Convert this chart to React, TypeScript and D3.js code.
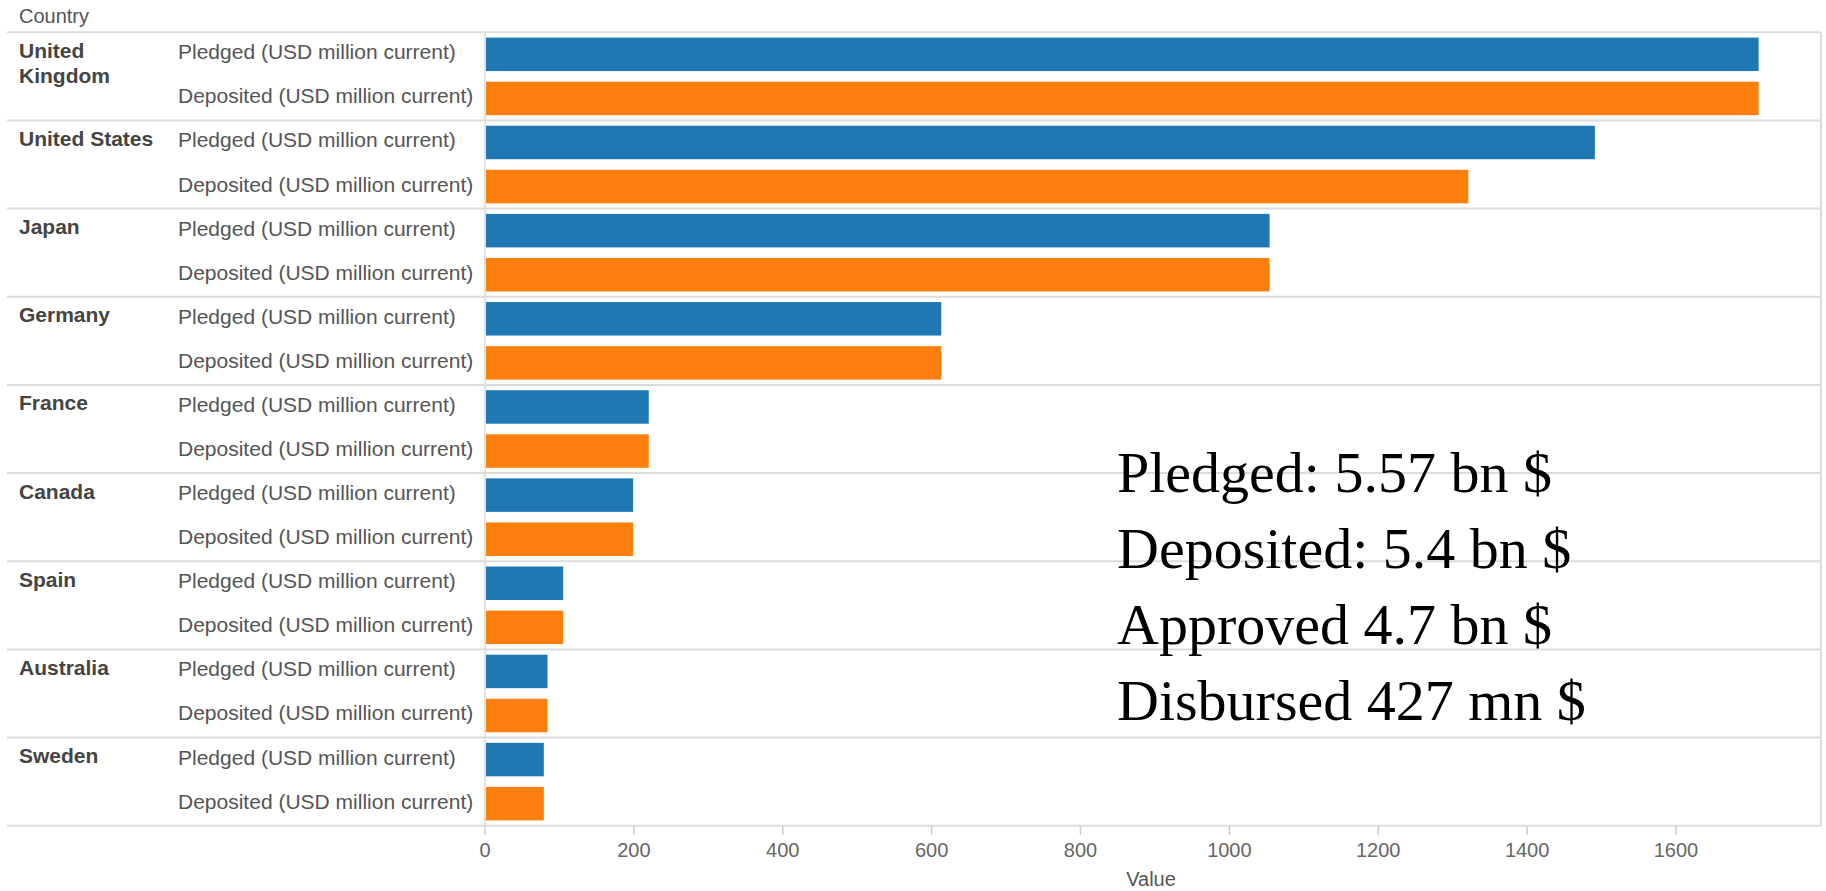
import React from "react";
import * as d3 from "d3";

const countries = ["United Kingdom", "United States", "Japan", "Germany", "France", "Canada", "Spain", "Australia", "Sweden"];
const countryLines: string[][] = [["United", "Kingdom"], ["United States"], ["Japan"], ["Germany"], ["France"], ["Canada"], ["Spain"], ["Australia"], ["Sweden"]];
const measures = ["Pledged (USD million current)", "Deposited (USD million current)"];
const pledged = [1711, 1491, 1054, 613, 220, 199, 105, 84, 79];
const deposited = [1711, 1321, 1054, 613, 220, 199, 105, 84, 79];
const ticks = [0, 200, 400, 600, 800, 1000, 1200, 1400, 1600];
const notes = ["Pledged: 5.57 bn $", "Deposited: 5.4 bn $", "Approved 4.7 bn $", "Disbursed 427 mn $"];
const colors = ["#1f77b4", "#ff7f0e"];

const W = 1826;
const H = 891;

export default function App() {
  const x = d3.scaleLinear().domain([0, 1600]).range([485, 1676]);
  const y = d3.scaleBand<string>().domain(countries).range([32.3, 825.7]).padding(0);
  const sub = d3.scaleBand<string>().domain(measures).range([0, y.bandwidth()]).paddingInner(0.24).paddingOuter(0.12);
  const subStep = y.bandwidth() / 2;
  const values = [pledged, deposited];
  const sans = "'Liberation Sans', Arial, sans-serif";
  const boundaries = countries.map((c) => y(c)!).concat([825.7]);

  return (
    <svg width={W} height={H} style={{ position: "absolute", left: 0, top: 0, background: "#fff" }} fontFamily={sans}>
      <rect x={0} y={0} width={W} height={H} fill="#fff" />
      <text x={19} y={23} fontSize={20} fill="#555">Country</text>
      {boundaries.map((b, i) => (
        <line key={"b" + i} x1={7} x2={1821} y1={b} y2={b} stroke="#dcdcdc" strokeWidth={2} />
      ))}
      <line x1={485} x2={485} y1={32.3} y2={826} stroke="#d8d8d8" strokeWidth={1.5} />
      <line x1={1821} x2={1821} y1={32.3} y2={826} stroke="#dcdcdc" strokeWidth={2} />
      {countries.map((c, ci) => (
        <g key={c}>
          {countryLines[ci].map((ln, li) => (
            <text key={li} x={19} y={y(c)! + 25.5 + li * 25.5} fontSize={21} fontWeight="bold" fill="#444">{ln}</text>
          ))}
          {measures.map((m, mi) => (
            <g key={m}>
              <text x={178} y={y(c)! + mi * subStep + 27} fontSize={21} fill="#555">{m}</text>
              <rect
                x={x(0) + 1}
                y={y(c)! + sub(m)!}
                width={x(values[mi][ci]) - x(0) - 1}
                height={sub.bandwidth()}
                fill={colors[mi]}
              />
            </g>
          ))}
        </g>
      ))}
      {ticks.map((t) => (
        <g key={t}>
          <line x1={x(t)} x2={x(t)} y1={826} y2={835} stroke="#ccc" strokeWidth={1.5} />
          <text x={x(t)} y={857} fontSize={20} textAnchor="middle" fill="#666">{t}</text>
        </g>
      ))}
      <text x={1151} y={886} fontSize={20} textAnchor="middle" fill="#555">Value</text>
      {notes.map((n, i) => (
        <text key={n} x={1117} y={492 + i * 76} fontSize={58} fontFamily="'Liberation Serif', 'Times New Roman', serif" fill="#000">{n}</text>
      ))}
    </svg>
  );
}
